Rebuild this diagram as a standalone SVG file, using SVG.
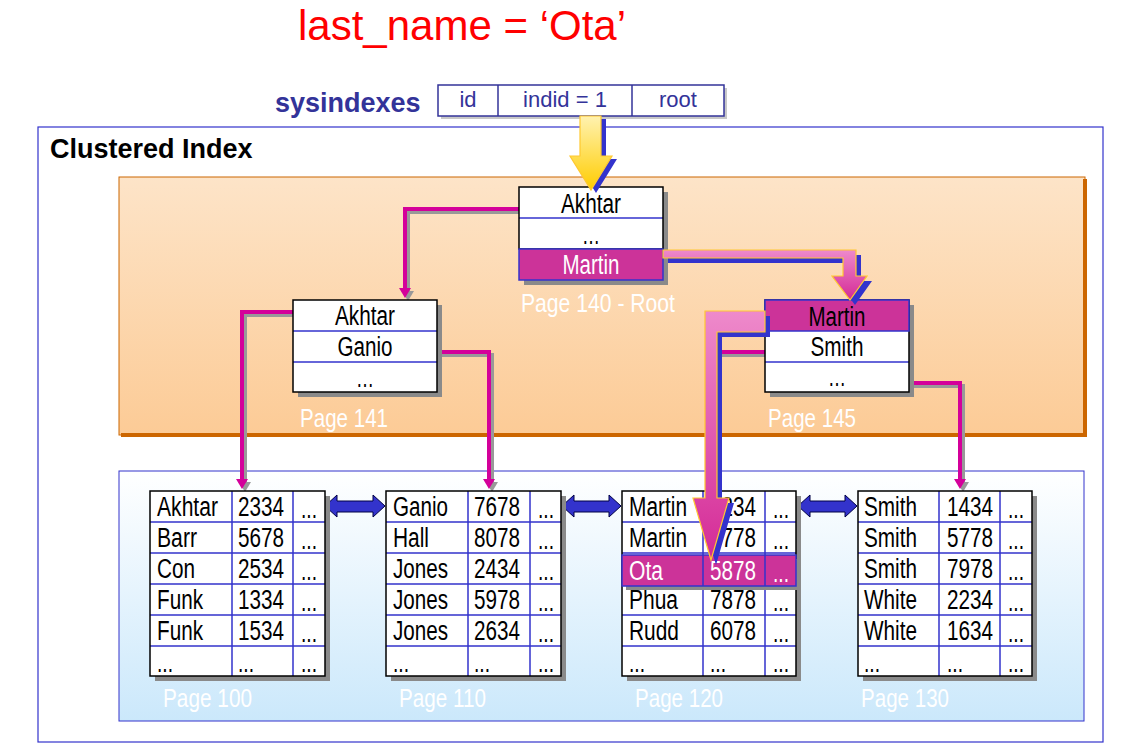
<svg xmlns="http://www.w3.org/2000/svg" width="1135" height="750" viewBox="0 0 1135 750">
<defs>
<style>
.t{font-family:"Liberation Sans",Arial,sans-serif;font-size:27px;fill:#000}
.w{fill:#fff}
.pg{font-family:"Liberation Sans",Arial,sans-serif;font-size:26px;fill:#fff}
.hd{font-family:"Liberation Sans",Arial,sans-serif;font-size:22px;fill:#333399}
.grid{stroke:#3333CC;stroke-width:1.5;fill:none}
.box{stroke:#000;stroke-width:1.5;fill:none}
.sh{fill:#8a8a8a}
.hl{fill:#CC3399;stroke:#3333CC;stroke-width:1.5}
.da{fill:#3333CC;stroke:#000044;stroke-width:1}
</style>
<linearGradient id="gOrange" x1="0" y1="0" x2="0" y2="1"><stop offset="0" stop-color="#FDE4C8"/><stop offset="1" stop-color="#FCCB96"/></linearGradient>
<linearGradient id="gBlue" x1="0" y1="0" x2="0" y2="1"><stop offset="0" stop-color="#FFFFFF"/><stop offset="1" stop-color="#CBE8FB"/></linearGradient>
<linearGradient id="gYellow" gradientUnits="userSpaceOnUse" x1="0" y1="116" x2="0" y2="190"><stop offset="0" stop-color="#FFF2B0"/><stop offset="1" stop-color="#FFCC00"/></linearGradient>
<linearGradient id="gPink1" gradientUnits="userSpaceOnUse" x1="0" y1="250" x2="0" y2="300"><stop offset="0" stop-color="#EE8ACB"/><stop offset="1" stop-color="#D42A96"/></linearGradient>
<linearGradient id="gPink2" gradientUnits="userSpaceOnUse" x1="0" y1="311" x2="0" y2="560"><stop offset="0" stop-color="#EE8ACB"/><stop offset="1" stop-color="#D42A96"/></linearGradient>
<marker id="ah" viewBox="0 0 10 12" refX="1" refY="6" markerWidth="10" markerHeight="12" markerUnits="userSpaceOnUse" orient="auto"><path d="M0,0 L10,6 L0,12 Z" fill="#D4009A"/></marker>
<marker id="ahg" viewBox="0 0 10 12" refX="1" refY="6" markerWidth="10" markerHeight="12" markerUnits="userSpaceOnUse" orient="auto"><path d="M0,0 L10,6 L0,12 Z" fill="#999"/></marker>
</defs>

<rect x="0" y="0" width="1135" height="750" fill="#fff"/>

<text x="298" y="40" font-family="Liberation Sans, Arial, sans-serif" font-size="42" fill="#FF0000">last_name = ‘Ota’</text>

<g id="sysindexes">
<text x="275" y="112" font-family="Liberation Sans, Arial, sans-serif" font-size="27" font-weight="bold" fill="#333399">sysindexes</text>
<rect x="441" y="88" width="286" height="31" fill="#c8c8c8"/>
<rect x="438" y="85" width="286" height="31" fill="#fff" stroke="#333399" stroke-width="1.5"/>
<line x1="498" y1="85" x2="498" y2="116" stroke="#333399" stroke-width="1.5"/>
<line x1="632" y1="85" x2="632" y2="116" stroke="#333399" stroke-width="1.5"/>
<text class="hd" x="468" y="107" text-anchor="middle">id</text>
<text class="hd" x="565" y="107" text-anchor="middle">indid = 1</text>
<text class="hd" x="678" y="107" text-anchor="middle">root</text>
</g>

<g id="clustered-index">
<rect x="38" y="127" width="1065" height="615" fill="none" stroke="#3333CC" stroke-width="1.2"/>
<text x="50" y="158" font-family="Liberation Sans, Arial, sans-serif" font-size="27" font-weight="bold" fill="#000">Clustered Index</text>
</g>

<g id="non-leaf-level">
<rect x="119" y="177" width="966" height="258" fill="url(#gOrange)" stroke="#CC6600" stroke-width="1"/>
<path d="M1085,179 V435 H121" fill="none" stroke="#CC6600" stroke-width="4"/>
</g>

<g id="leaf-level">
<rect x="119" y="471" width="965" height="250" fill="url(#gBlue)" stroke="#3333CC" stroke-width="1"/>
</g>

<g id="connectors">
<g fill="none" stroke="#999" stroke-width="4" transform="translate(3,3)">
<path d="M519,209 H405 V289" marker-end="url(#ahg)"/>
<path d="M293,312 H242 V480" marker-end="url(#ahg)"/>
<path d="M437,352 H489 V480" marker-end="url(#ahg)"/>
<path d="M765,352 H712 V490"/>
<path d="M909,383 H960 V480" marker-end="url(#ahg)"/>
</g>
<g fill="none" stroke="#D4009A" stroke-width="4">
<path d="M519,209 H405 V289" marker-end="url(#ah)"/>
<path d="M293,312 H242 V480" marker-end="url(#ah)"/>
<path d="M437,352 H489 V480" marker-end="url(#ah)"/>
<path d="M765,352 H712 V490"/>
<path d="M909,383 H960 V480" marker-end="url(#ah)"/>
</g>
<polygon class="da" points="325,506 337,495 337,501 373,501 373,495 385,506 373,517 373,512 337,512 337,517"/>
<polygon class="da" points="562,506 574,495 574,501 609,501 609,495 621,506 609,517 609,512 574,512 574,517"/>
<polygon class="da" points="798,506 810,495 810,501 845,501 845,495 857,506 845,517 845,512 810,512 810,517"/>
</g>

<g id="page140">
<rect class="sh" x="524" y="192" width="144" height="93"/>
<rect x="519" y="187" width="144" height="62" fill="#fff"/>
<line class="grid" x1="519" y1="218" x2="663" y2="218"/>
<rect class="box" x="519" y="187" width="144" height="62"/>
<rect class="hl" x="519" y="249" width="144" height="31"/>
<text class="t" x="591" y="213" text-anchor="middle" textLength="60" lengthAdjust="spacingAndGlyphs">Akhtar</text>
<text class="t" x="591" y="244" text-anchor="middle" textLength="18" lengthAdjust="spacingAndGlyphs">…</text>
<text class="t w" x="591" y="274" text-anchor="middle" textLength="57" lengthAdjust="spacingAndGlyphs">Martin</text>
<text class="pg" x="521" y="312" textLength="154" lengthAdjust="spacingAndGlyphs">Page 140 - Root</text>
</g>

<g id="page141">
<rect class="sh" x="298" y="305" width="144" height="92"/>
<rect x="293" y="300" width="144" height="92" fill="#fff"/>
<line class="grid" x1="293" y1="331" x2="437" y2="331"/>
<line class="grid" x1="293" y1="362" x2="437" y2="362"/>
<rect class="box" x="293" y="300" width="144" height="92"/>
<text class="t" x="365" y="325" text-anchor="middle" textLength="60" lengthAdjust="spacingAndGlyphs">Akhtar</text>
<text class="t" x="365" y="356" text-anchor="middle" textLength="55" lengthAdjust="spacingAndGlyphs">Ganio</text>
<text class="t" x="365" y="387" text-anchor="middle" textLength="18" lengthAdjust="spacingAndGlyphs">…</text>
<text class="pg" x="300" y="427" textLength="88" lengthAdjust="spacingAndGlyphs">Page 141</text>
</g>

<g id="page145">
<rect class="sh" x="770" y="305" width="144" height="92"/>
<rect x="765" y="300" width="144" height="92" fill="#fff"/>
<line class="grid" x1="765" y1="362" x2="909" y2="362"/>
<rect class="box" x="765" y="300" width="144" height="92"/>
<rect class="hl" x="765" y="300" width="144" height="31"/>
<text class="t" x="837" y="326" text-anchor="middle" textLength="57" lengthAdjust="spacingAndGlyphs">Martin</text>
<text class="t" x="837" y="356" text-anchor="middle" textLength="53" lengthAdjust="spacingAndGlyphs">Smith</text>
<text class="t" x="837" y="386" text-anchor="middle" textLength="18" lengthAdjust="spacingAndGlyphs">…</text>
<text class="pg" x="768" y="427" textLength="88" lengthAdjust="spacingAndGlyphs">Page 145</text>
</g>

<g id="page100" transform="translate(150,491)">
<rect class="sh" x="5" y="5" width="175" height="185"/>
<rect x="0" y="0" width="175" height="185" fill="#fff"/>
<path class="grid" d="M0,31 H175 M0,62 H175 M0,93 H175 M0,124 H175 M0,155 H175 M82,0 V185 M143,0 V185"/>
<rect class="box" x="0" y="0" width="175" height="185"/>
<text class="t" x="7" y="25" textLength="61" lengthAdjust="spacingAndGlyphs">Akhtar</text>
<text class="t" x="88" y="25" textLength="46" lengthAdjust="spacingAndGlyphs">2334</text>
<text class="t" x="151" y="27" textLength="16" lengthAdjust="spacingAndGlyphs">...</text>
<text class="t" x="7" y="56" textLength="40" lengthAdjust="spacingAndGlyphs">Barr</text>
<text class="t" x="88" y="56" textLength="46" lengthAdjust="spacingAndGlyphs">5678</text>
<text class="t" x="151" y="58" textLength="16" lengthAdjust="spacingAndGlyphs">...</text>
<text class="t" x="7" y="87" textLength="38" lengthAdjust="spacingAndGlyphs">Con</text>
<text class="t" x="88" y="87" textLength="46" lengthAdjust="spacingAndGlyphs">2534</text>
<text class="t" x="151" y="89" textLength="16" lengthAdjust="spacingAndGlyphs">...</text>
<text class="t" x="7" y="118" textLength="46" lengthAdjust="spacingAndGlyphs">Funk</text>
<text class="t" x="88" y="118" textLength="46" lengthAdjust="spacingAndGlyphs">1334</text>
<text class="t" x="151" y="120" textLength="16" lengthAdjust="spacingAndGlyphs">...</text>
<text class="t" x="7" y="149" textLength="46" lengthAdjust="spacingAndGlyphs">Funk</text>
<text class="t" x="88" y="149" textLength="46" lengthAdjust="spacingAndGlyphs">1534</text>
<text class="t" x="151" y="151" textLength="16" lengthAdjust="spacingAndGlyphs">...</text>
<text class="t" x="7" y="181" textLength="16" lengthAdjust="spacingAndGlyphs">...</text>
<text class="t" x="88" y="181" textLength="16" lengthAdjust="spacingAndGlyphs">...</text>
<text class="t" x="151" y="181" textLength="16" lengthAdjust="spacingAndGlyphs">...</text>
<text class="pg" x="13" y="216" textLength="89" lengthAdjust="spacingAndGlyphs">Page 100</text>
</g>

<g id="page110" transform="translate(386,491)">
<rect class="sh" x="5" y="5" width="175" height="185"/>
<rect x="0" y="0" width="175" height="185" fill="#fff"/>
<path class="grid" d="M0,31 H175 M0,62 H175 M0,93 H175 M0,124 H175 M0,155 H175 M82,0 V185 M144,0 V185"/>
<rect class="box" x="0" y="0" width="175" height="185"/>
<text class="t" x="7" y="25" textLength="55" lengthAdjust="spacingAndGlyphs">Ganio</text>
<text class="t" x="88" y="25" textLength="46" lengthAdjust="spacingAndGlyphs">7678</text>
<text class="t" x="152" y="27" textLength="16" lengthAdjust="spacingAndGlyphs">...</text>
<text class="t" x="7" y="56" textLength="36" lengthAdjust="spacingAndGlyphs">Hall</text>
<text class="t" x="88" y="56" textLength="46" lengthAdjust="spacingAndGlyphs">8078</text>
<text class="t" x="152" y="58" textLength="16" lengthAdjust="spacingAndGlyphs">...</text>
<text class="t" x="7" y="87" textLength="55" lengthAdjust="spacingAndGlyphs">Jones</text>
<text class="t" x="88" y="87" textLength="46" lengthAdjust="spacingAndGlyphs">2434</text>
<text class="t" x="152" y="89" textLength="16" lengthAdjust="spacingAndGlyphs">...</text>
<text class="t" x="7" y="118" textLength="55" lengthAdjust="spacingAndGlyphs">Jones</text>
<text class="t" x="88" y="118" textLength="46" lengthAdjust="spacingAndGlyphs">5978</text>
<text class="t" x="152" y="120" textLength="16" lengthAdjust="spacingAndGlyphs">...</text>
<text class="t" x="7" y="149" textLength="55" lengthAdjust="spacingAndGlyphs">Jones</text>
<text class="t" x="88" y="149" textLength="46" lengthAdjust="spacingAndGlyphs">2634</text>
<text class="t" x="152" y="151" textLength="16" lengthAdjust="spacingAndGlyphs">...</text>
<text class="t" x="7" y="181" textLength="16" lengthAdjust="spacingAndGlyphs">...</text>
<text class="t" x="88" y="181" textLength="16" lengthAdjust="spacingAndGlyphs">...</text>
<text class="t" x="152" y="181" textLength="16" lengthAdjust="spacingAndGlyphs">...</text>
<text class="pg" x="13" y="216" textLength="87" lengthAdjust="spacingAndGlyphs">Page 110</text>
</g>

<g id="page120" transform="translate(622,491)">
<rect class="sh" x="5" y="5" width="174" height="185"/>
<rect x="0" y="0" width="174" height="185" fill="#fff"/>
<path class="grid" d="M0,31 H174 M0,62 H174 M0,93 H174 M0,124 H174 M0,155 H174 M81,0 V185 M143,0 V185"/>
<rect class="box" x="0" y="0" width="174" height="185"/>
<text class="t" x="7" y="25" textLength="58" lengthAdjust="spacingAndGlyphs">Martin</text>
<text class="t" x="88" y="25" textLength="46" lengthAdjust="spacingAndGlyphs">1234</text>
<text class="t" x="151" y="27" textLength="16" lengthAdjust="spacingAndGlyphs">...</text>
<text class="t" x="7" y="56" textLength="58" lengthAdjust="spacingAndGlyphs">Martin</text>
<text class="t" x="88" y="56" textLength="46" lengthAdjust="spacingAndGlyphs">7778</text>
<text class="t" x="151" y="58" textLength="16" lengthAdjust="spacingAndGlyphs">...</text>
<text class="t" x="7" y="118" textLength="49" lengthAdjust="spacingAndGlyphs">Phua</text>
<text class="t" x="88" y="118" textLength="46" lengthAdjust="spacingAndGlyphs">7878</text>
<text class="t" x="151" y="120" textLength="16" lengthAdjust="spacingAndGlyphs">...</text>
<text class="t" x="7" y="149" textLength="50" lengthAdjust="spacingAndGlyphs">Rudd</text>
<text class="t" x="88" y="149" textLength="46" lengthAdjust="spacingAndGlyphs">6078</text>
<text class="t" x="151" y="151" textLength="16" lengthAdjust="spacingAndGlyphs">...</text>
<text class="t" x="7" y="181" textLength="16" lengthAdjust="spacingAndGlyphs">...</text>
<text class="t" x="88" y="181" textLength="16" lengthAdjust="spacingAndGlyphs">...</text>
<text class="t" x="151" y="181" textLength="16" lengthAdjust="spacingAndGlyphs">...</text>
<rect x="4" y="68" width="174" height="31" fill="#8a8a8a"/>
<rect class="hl" x="0" y="64" width="174" height="31"/>
<path d="M81,64 V95 M143,64 V95" stroke="#3333CC" stroke-width="1.5"/>
<text class="t w" x="7" y="89" textLength="34" lengthAdjust="spacingAndGlyphs">Ota</text>
<text class="t w" x="88" y="89" textLength="46" lengthAdjust="spacingAndGlyphs">5878</text>
<text class="t w" x="151" y="91" textLength="16" lengthAdjust="spacingAndGlyphs">...</text>
<text class="pg" x="13" y="216" textLength="88" lengthAdjust="spacingAndGlyphs">Page 120</text>
</g>

<g id="page130" transform="translate(858,491)">
<rect class="sh" x="5" y="5" width="174" height="185"/>
<rect x="0" y="0" width="174" height="185" fill="#fff"/>
<path class="grid" d="M0,31 H174 M0,62 H174 M0,93 H174 M0,124 H174 M0,155 H174 M81,0 V185 M142,0 V185"/>
<rect class="box" x="0" y="0" width="174" height="185"/>
<text class="t" x="6" y="25" textLength="53" lengthAdjust="spacingAndGlyphs">Smith</text>
<text class="t" x="89" y="25" textLength="46" lengthAdjust="spacingAndGlyphs">1434</text>
<text class="t" x="150" y="27" textLength="16" lengthAdjust="spacingAndGlyphs">...</text>
<text class="t" x="6" y="56" textLength="53" lengthAdjust="spacingAndGlyphs">Smith</text>
<text class="t" x="89" y="56" textLength="46" lengthAdjust="spacingAndGlyphs">5778</text>
<text class="t" x="150" y="58" textLength="16" lengthAdjust="spacingAndGlyphs">...</text>
<text class="t" x="6" y="87" textLength="53" lengthAdjust="spacingAndGlyphs">Smith</text>
<text class="t" x="89" y="87" textLength="46" lengthAdjust="spacingAndGlyphs">7978</text>
<text class="t" x="150" y="89" textLength="16" lengthAdjust="spacingAndGlyphs">...</text>
<text class="t" x="6" y="118" textLength="53" lengthAdjust="spacingAndGlyphs">White</text>
<text class="t" x="89" y="118" textLength="46" lengthAdjust="spacingAndGlyphs">2234</text>
<text class="t" x="150" y="120" textLength="16" lengthAdjust="spacingAndGlyphs">...</text>
<text class="t" x="6" y="149" textLength="53" lengthAdjust="spacingAndGlyphs">White</text>
<text class="t" x="89" y="149" textLength="46" lengthAdjust="spacingAndGlyphs">1634</text>
<text class="t" x="150" y="151" textLength="16" lengthAdjust="spacingAndGlyphs">...</text>
<text class="t" x="6" y="181" textLength="16" lengthAdjust="spacingAndGlyphs">...</text>
<text class="t" x="89" y="181" textLength="16" lengthAdjust="spacingAndGlyphs">...</text>
<text class="t" x="150" y="181" textLength="16" lengthAdjust="spacingAndGlyphs">...</text>
<text class="pg" x="3" y="216" textLength="88" lengthAdjust="spacingAndGlyphs">Page 130</text>
</g>

<g id="search-path">
<polygon points="580,116 601,116 601,156 612,156 591,190 570,156 580,156" fill="#3333CC" transform="translate(5,3)"/>
<polygon points="580,116 601,116 601,156 612,156 591,190 570,156 580,156" fill="url(#gYellow)" stroke="#FFC830" stroke-width="1.2"/>
<polygon points="663,250 856,250 856,276 867,276 850,300 832,276 843,276 843,258 663,258" fill="#3333CC" transform="translate(5,5)"/>
<polygon points="663,250 856,250 856,276 867,276 850,300 832,276 843,276 843,258 663,258" fill="url(#gPink1)" stroke="#FFC830" stroke-width="1.2"/>
<polygon points="765,311 705,311 705,498 693,498 711,560 729,498 717,498 717,332 765,332" fill="#3333CC" transform="translate(5,5)"/>
<polygon points="765,311 705,311 705,498 693,498 711,560 729,498 717,498 717,332 765,332" fill="url(#gPink2)" stroke="#FFC830" stroke-width="1.2"/>
</g>
</svg>
